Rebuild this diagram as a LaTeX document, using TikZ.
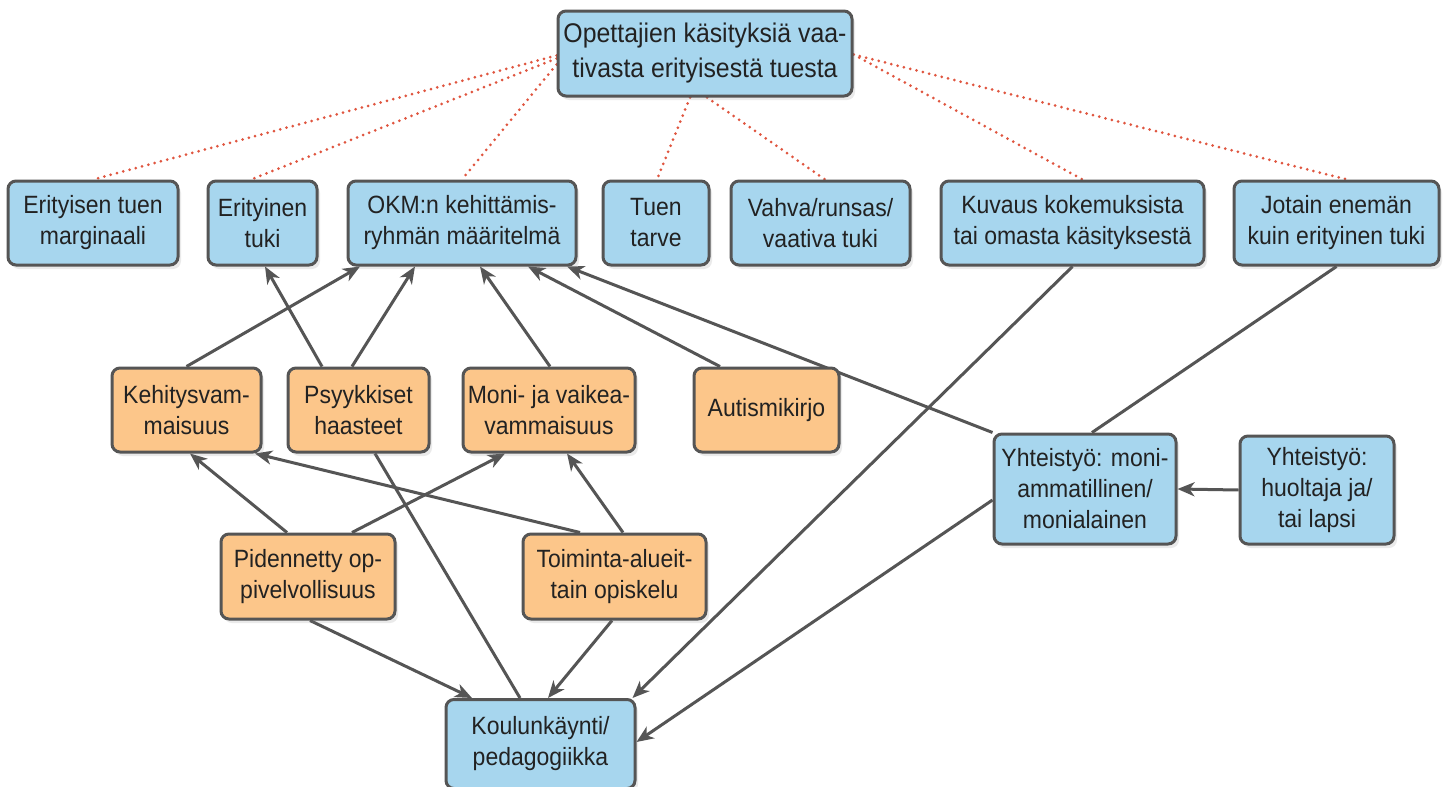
\documentclass[tikz,border=0pt]{standalone}
\usepackage{fontspec}
\setmainfont{Liberation Sans}[FakeStretch=0.92]
\usetikzlibrary{arrows.meta,shadows,calc}
\definecolor{boxblue}{HTML}{A7D6EE}
\definecolor{boxorange}{HTML}{FCC68A}
\definecolor{edgegray}{HTML}{555555}
\definecolor{dotred}{HTML}{E0553F}
\definecolor{txt}{HTML}{222222}
\pgfdeclarelayer{back}
\pgfdeclarelayer{bg}
\pgfsetlayers{back,bg,main}
\begin{document}
\begin{tikzpicture}[x=1pt,y=-1pt,
 box/.style={draw=edgegray, line width=3pt, rounded corners=8pt, align=center, inner sep=0pt,
   font=\fontsize{25}{31}\selectfont, text=txt,
   drop shadow={opacity=0.16, shadow xshift=3pt, shadow yshift=-4pt}},
 bluebox/.style={box, fill=boxblue},
 orangebox/.style={box, fill=boxorange},
 link/.style={draw=edgegray, line width=3pt},
 arr/.style={link, -{Stealth[length=17pt,width=14pt,inset=5pt]}},
 dots/.style={draw=dotred, line width=3pt, line cap=round, dash pattern=on 0pt off 6.5pt}]
\useasboundingbox (0,0) rectangle (1449,787);
\begin{pgfonlayer}{back}
\fill[white] (0,0) rectangle (1449,787);
\end{pgfonlayer}

% top
\node[bluebox, minimum width=294pt, minimum height=85pt, font=\fontsize{27}{35}\selectfont] (top) at (705,53.5)
  {Opettajien käsityksiä vaa-\\tivasta erityisestä tuesta};

% row 1
\node[bluebox, minimum width=170pt, minimum height=84pt] (e1) at (93,223) {Erityisen tuen\\marginaali};
\node[bluebox, minimum width=109pt, minimum height=84pt] (e2) at (262.5,223) {Erityinen\\tuki};
\node[bluebox, minimum width=228pt, minimum height=84pt] (okm) at (462,223) {OKM:n kehittämis-\\ryhmän määritelmä};
\node[bluebox, minimum width=106pt, minimum height=84pt] (tt) at (656,223) {Tuen\\tarve};
\node[bluebox, minimum width=179pt, minimum height=84pt] (vah) at (820.5,223) {Vahva/runsas/\\vaativa tuki};
\node[bluebox, minimum width=263pt, minimum height=84pt] (kuv) at (1072.5,223) {Kuvaus kokemuksista\\tai omasta käsityksestä};
\node[bluebox, minimum width=205pt, minimum height=84pt] (jot) at (1336.5,223) {Jotain enemän\\kuin erityinen tuki};

% row 2
\node[orangebox, minimum width=149pt, minimum height=84pt] (keh) at (186.5,410) {Kehitysvam-\\maisuus};
\node[orangebox, minimum width=141pt, minimum height=84pt] (psy) at (358.5,410) {Psyykkiset\\haasteet};
\node[orangebox, minimum width=172pt, minimum height=84pt] (mon) at (549,410) {Moni- ja vaikea-\\vammaisuus};
\node[orangebox, minimum width=145pt, minimum height=84pt] (aut) at (766.5,410) {Autismikirjo};

\node[bluebox, minimum width=182pt, minimum height=110pt] (yht) at (1085,489) {Yhteistyö: moni-\\ammatillinen/\\monialainen};
\node[bluebox, minimum width=154pt, minimum height=108pt] (huo) at (1317,490) {Yhteistyö:\\huoltaja ja/\\tai lapsi};

% row 3
\node[orangebox, minimum width=174pt, minimum height=85pt] (pid) at (308,576.5) {Pidennetty op-\\pivelvollisuus};
\node[orangebox, minimum width=183pt, minimum height=85pt] (toi) at (614.5,576.5) {Toiminta-alueit-\\tain opiskelu};

% bottom
\node[bluebox, minimum width=189pt, minimum height=89pt] (kou) at (540.5,744) {Koulunkäynti/\\pedagogiikka};

\begin{pgfonlayer}{bg}
% dotted
\draw[dots] ([yshift=-2pt]top.west) -- (e1.north);
\draw[dots] ([yshift=-5pt]top.west) -- ([xshift=-11.5pt]e2.north);
\draw[dots] ([yshift=-11pt]top.west) -- (okm.north);
\draw[dots] ([xshift=-15pt]top.south) -- ([xshift=1pt]tt.north);
\draw[dots] ([xshift=2pt]top.south) -- ([xshift=4.5pt]vah.north);
\draw[dots] ([yshift=-1pt]top.east) -- ([xshift=10pt]kuv.north);
\draw[dots] ([yshift=-1pt]top.east) -- ([xshift=10.5pt]jot.north);

% arrows
\draw[arr] (keh.north) -- ([xshift=-102pt]okm.south);
\draw[arr] ([xshift=-36.5pt]psy.north) -- ([xshift=2.5pt]e2.south);
\draw[arr] ([xshift=-6.5pt]psy.north) -- ([xshift=-47pt]okm.south);
\draw[arr] ([xshift=1pt]mon.north) -- ([xshift=18pt]okm.south);
\draw[arr] ([xshift=-46.5pt]aut.north) -- ([xshift=66pt]okm.south);
\draw[arr] (yht.north west) -- ([xshift=105pt]okm.south);
\draw[arr] ([xshift=-21pt]pid.north) -- ([xshift=3.5pt]keh.south);
\draw[arr] ([xshift=44pt]pid.north) -- ([xshift=-44pt]mon.south);
\draw[arr] ([xshift=-34.5pt]toi.north) -- ([xshift=68.5pt]keh.south);
\draw[arr] ([xshift=8.5pt]toi.north) -- ([xshift=18pt]mon.south);
\draw[link] ([xshift=16.5pt]psy.south) -- ([xshift=-20.5pt]kou.north);
\draw[arr] ([xshift=2pt]pid.south) -- ([xshift=-68.5pt]kou.north);
\draw[arr] ([xshift=-2.5pt]toi.south) -- ([xshift=7.5pt]kou.north);
\draw[arr] (kuv.south) -- ([xshift=-4pt]kou.north east);
\draw[arr] ([yshift=-11pt]yht.west) -- ([yshift=2pt]kou.east);
\draw[link] (jot.south) -- ([xshift=7pt]yht.north);
\draw[arr] (huo.west) -- (yht.east);
\end{pgfonlayer}
\end{tikzpicture}
\end{document}
